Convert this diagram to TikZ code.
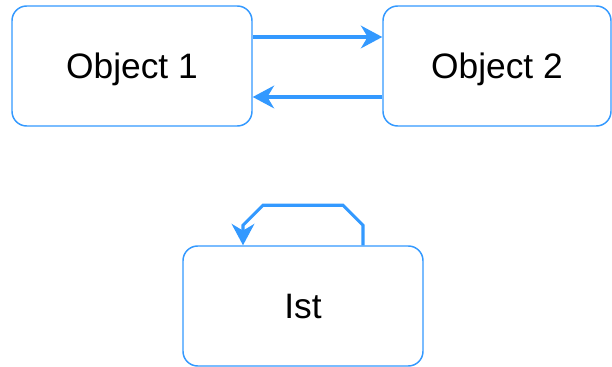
\documentclass[tikz,border=0pt]{standalone}
\usepackage{fontspec}
\setmainfont{Liberation Sans}
\usepackage{xcolor}
\usetikzlibrary{arrows.meta,calc}

\definecolor{linkblue}{HTML}{3399FF}

\begin{document}
\begin{tikzpicture}[
    x=0.75pt, y=-0.75pt,
    obj/.style={rectangle, draw=linkblue, line width=1.1pt, rounded corners=11pt, fill=white, minimum width=180pt, minimum height=90pt, text depth=0pt, align=center, font=\fontsize{26.5}{30}\selectfont},
    link/.style={-{Stealth[length=16pt, width=17pt, inset=5pt]}, draw=linkblue, line width=2.3pt}
]
\useasboundingbox (0,0) rectangle (612,367);

% Objects
\node[obj] (O1) at (132, 66) {Object 1};
\node[obj, minimum width=171pt] (O2) at (497, 66) {Object 2};
\node[obj] (I) at (303, 306) {Ist};

% Messages between objects
\draw[link] ($(O1.east)+(0,-29)$) -- ($(O2.west)+(0,-29)$);
\draw[link] ($(O2.west)+(0,31)$) -- ($(O1.east)+(0,31)$);

% Self message
\draw[link] ($(I.north)+(60,0)$) -- ++(0,-20) -- ++(-20,-20) -- ++(-80,0) -- ++(-20,20) -- ++(0,20);

\end{tikzpicture}
\end{document}
